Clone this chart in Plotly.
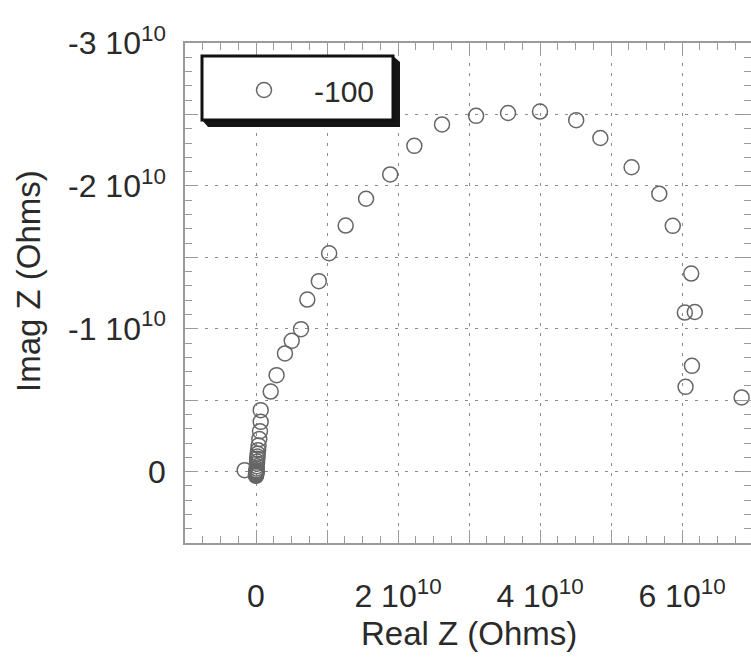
import plotly.graph_objects as go

# Data (units of 1e10 Ohms)
real_z = [-0.16, 0.000, 0.000, 0.001, 0.001, 0.002, 0.002, 0.003, 0.004, 0.005,
          0.006, 0.007, 0.008, 0.010, 0.012,
          0.014, 0.016, 0.018, 0.020, 0.024, 0.030, 0.036, 0.046, 0.056, 0.066,
          0.066, 0.207, 0.290, 0.408, 0.503, 0.634, 0.723, 0.885, 1.030, 1.263,
          1.550, 1.890, 2.230, 2.620, 3.100, 3.550, 4.000, 4.510, 4.850, 5.290,
          5.680, 5.870, 6.130, 6.040, 6.180, 6.140, 6.050, 6.840]
imag_z = [-0.010, 0.030, 0.026, 0.022, 0.018, 0.015, 0.012, 0.009, 0.006, 0.003,
          0.000, -0.004, -0.010, -0.022, -0.038,
          -0.055, -0.070, -0.090, -0.105, -0.125, -0.150, -0.182, -0.228, -0.282, -0.348,
          -0.430, -0.560, -0.675, -0.827, -0.915, -0.997, -1.204, -1.333, -1.528, -1.722,
          -1.910, -2.080, -2.280, -2.430, -2.490, -2.510, -2.520, -2.460, -2.335, -2.130,
          -1.945, -1.720, -1.386, -1.113, -1.117, -0.740, -0.593, -0.519]
series_name = "-100"
scale = 1e10

x_tick_vals = [-1, 0, 1, 2, 3, 4, 5, 6]
x_tick_text = ["", "0", "", "2 10<sup>10</sup>", "", "4 10<sup>10</sup>", "", "6 10<sup>10</sup>"]
y_tick_vals = [-3, -2.5, -2, -1.5, -1, -0.5, 0, 0.5]
y_tick_text = ["-3 10<sup>10</sup>", "", "-2 10<sup>10</sup>", "", "-1 10<sup>10</sup>", "", "0", ""]
x_title = "Real Z (Ohms)"
y_title = "Imag Z (Ohms)"

FONT = "Liberation Sans, Arial, sans-serif"
TXT = "#2a2a2a"

W, H = 751, 659
L, R, T, B = 185, 0, 43, 116
PW, PH = W - L - R, H - T - B

def px(x):
    return (x - L) / PW

def py(y):
    return (H - B - y) / PH

fig = go.Figure()
fig.add_trace(go.Scatter(
    x=[v * scale for v in real_z], y=[v * scale for v in imag_z],
    mode="markers", name=series_name,
    marker=dict(symbol="circle-open", size=15, color="#666666", line=dict(width=1.5, color="#666666")),
))

axis_common = dict(
    showline=True, linecolor="#9a9a9a", linewidth=1.5, mirror="ticks",
    ticks="inside", ticklen=13, tickcolor="#9a9a9a", tickwidth=1.2,
    showgrid=True, gridcolor="#8a8a8a", griddash="3px,7px", gridwidth=1.2,
    zeroline=False,
    tickfont=dict(family=FONT, size=32, color=TXT),
)

fig.update_xaxes(
    range=[-1e10, -1e10 + PW / 71.0 * 1e10],
    tickvals=[v * scale for v in x_tick_vals], ticktext=x_tick_text,
    minor=dict(dtick=0.25e10, ticks="inside", ticklen=7, tickcolor="#9a9a9a", showgrid=False),
    ticklabelstandoff=24,
    **axis_common,
)
fig.update_yaxes(
    range=[0.5e10, -3e10],
    tickvals=[v * scale for v in y_tick_vals], ticktext=y_tick_text,
    minor=dict(dtick=0.1e10, ticks="inside", ticklen=7, tickcolor="#9a9a9a", showgrid=False),
    ticklabelstandoff=11,
    **axis_common,
)

# axis titles
fig.add_annotation(text=x_title, xref="paper", yref="paper", x=px(469), y=py(633),
                   xanchor="center", yanchor="middle", showarrow=False,
                   font=dict(family=FONT, size=33, color=TXT))
fig.add_annotation(text=y_title, xref="paper", yref="paper", x=px(28), y=py(281),
                   xanchor="center", yanchor="middle", showarrow=False, textangle=-90,
                   font=dict(family=FONT, size=33, color=TXT))

# legend box with drop shadow
fig.add_shape(type="path", xref="paper", yref="paper", layer="above",
              path=f"M {px(202)},{py(120)} L {px(208)},{py(127)} L {px(400)},{py(127)} L {px(400)},{py(62)} L {px(393)},{py(56)} Z",
              fillcolor="#151515", line=dict(width=0))
fig.add_shape(type="rect", xref="paper", yref="paper", layer="above",
              x0=px(202), x1=px(393), y0=py(120), y1=py(56),
              fillcolor="white", line=dict(color="#111", width=3))

fig.update_layout(
    width=W, height=H,
    margin=dict(l=L, r=R, t=T, b=B, autoexpand=False),
    paper_bgcolor="white", plot_bgcolor="white",
    showlegend=True,
    legend=dict(x=px(214), y=py(90), xanchor="left", yanchor="middle",
                bgcolor="rgba(0,0,0,0)", borderwidth=0, itemwidth=90,
                font=dict(family=FONT, size=30, color=TXT)),
)

fig.write_html("out.html")
